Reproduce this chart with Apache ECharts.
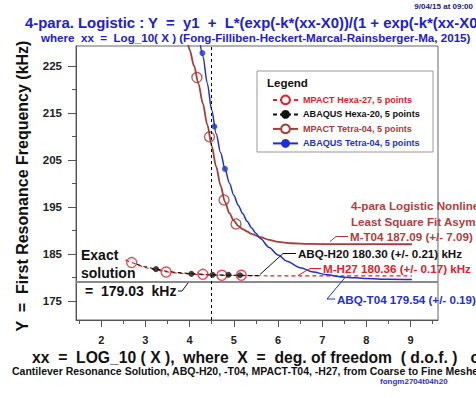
<!DOCTYPE html>
<html><head><meta charset="utf-8">
<script src="https://cdn.jsdelivr.net/npm/echarts@6/dist/echarts.min.js"></script>
<style>html,body{margin:0;padding:0;background:#fff}#c{width:476px;height:398px}</style>
</head><body><div id="c"></div>
<script>
// ---------- data ----------
const xTickLabels = [2, 3, 4, 5, 6, 7, 8, 9];
const xMinorTicks = [1.5, 2.5, 3.5, 4.5, 5.5, 6.5, 7.5, 8.5, 9.5];
const yTickLabels = [175, 185, 195, 205, 215, 225];
const yMinorTicks = [180, 190, 200, 210, 220];

const seriesNames = ['MPACT Hexa-27, 5 points', 'ABAQUS Hexa-20, 5 points', 'MPACT Tetra-04, 5 points', 'ABAQUS Tetra-04, 5 points'];

// measured points (xx = log10 dof, Y kHz)
const mH27X = [2.69, 3.47, 4.30, 4.73, 5.17];
const mH27Y = [183.2, 181.2, 180.7, 180.5, 180.5];
const aH20X = [3.24, 4.04, 4.52, 4.88, 5.14];
const aH20Y = [181.8, 180.8, 180.6, 180.6, 180.5];
const mT04X = [4.165, 4.45, 4.78, 5.05];
const mT04Y = [222.5, 209.9, 196.5, 191.4];
const aT04X = [4.29, 4.56, 4.80];
const aT04Y = [227.7, 212.1, 203.1];

// fitted curves
const fitMH27X = [2.55, 2.7, 2.85, 3.0, 3.25, 3.5, 3.75, 4.0, 4.3, 4.7, 5.2, 5.8, 6.5, 7.5, 9.03];
const fitMH27Y = [183.8, 183.2, 182.6, 182.1, 181.6, 181.2, 180.95, 180.78, 180.62, 180.5, 180.43, 180.39, 180.37, 180.36, 180.36];
const fitAH20X = [2.8, 3.0, 3.24, 3.5, 3.75, 4.0, 4.5, 5.0, 5.6];
const fitAH20Y = [182.9, 182.3, 181.8, 181.35, 181.05, 180.85, 180.6, 180.48, 180.4];
const fitMT04X = [3.95, 4.0, 4.1, 4.2, 4.3, 4.4, 4.5, 4.6, 4.7, 4.8, 4.9, 5.0, 5.1, 5.2, 5.3, 5.4, 5.6, 5.8, 6.0, 6.3, 6.7, 7.5, 9.03];
const fitMT04Y = [230.2, 228.4, 225.0, 221.2, 217.0, 212.5, 208.0, 203.6, 199.6, 196.1, 193.7, 192.1, 191.0, 190.3, 189.8, 189.3, 188.6, 188.0, 187.6, 187.3, 187.15, 187.1, 187.09];
const fitAT04X = [4.22, 4.3, 4.4, 4.5, 4.6, 4.7, 4.8, 4.9, 5.0, 5.1, 5.2, 5.3, 5.4, 5.5, 5.6, 5.8, 6.0, 6.2, 6.5, 6.8, 7.1, 7.5, 8.0, 8.5, 9.03];
const fitAT04Y = [231.0, 227.1, 221.3, 215.6, 210.6, 206.6, 203.1, 200.1, 197.5, 195.4, 193.6, 192.0, 190.6, 189.4, 188.3, 186.4, 184.8, 183.5, 182.1, 181.2, 180.6, 180.1, 179.8, 179.65, 179.58];

const EXACT = 179.03;
const REF_X = 4.5;

// ---------- chart ----------
const RED = '#e0202a', BROWN = '#a83a3a', BLUE = '#1f2fd0', BLACK = '#111';
const FF = 'Liberation Sans, Arial, Helvetica, sans-serif';
const pairs = (xs, ys) => xs.map((x, i) => [x, ys[i]]);

const chart = echarts.init(document.getElementById('c'), null, {renderer: 'svg'});

function lineSeries(name, xs, ys, color, width, dashed, symbol) {
  return {
    type: 'line', name: name, data: pairs(xs, ys),
    xAxisIndex: 0, yAxisIndex: 0,
    smooth: 0.3, smoothMonotone: 'x',
    showSymbol: false, symbol: symbol, symbolSize: 9,
    itemStyle: {color: color},
    lineStyle: {color: color, width: width, type: dashed ? [4, 3] : 'solid'},
    clip: true, silent: true, z: 3
  };
}
function scatterSeries(name, xs, ys, color, hollow) {
  return {
    type: 'scatter', name: name, data: pairs(xs, ys),
    xAxisIndex: 0, yAxisIndex: 0,
    symbol: 'circle', symbolSize: hollow ? 10 : 6,
    itemStyle: hollow ? {color: 'rgba(0,0,0,0)', borderColor: color, borderWidth: 1.4} : {color: color},
    silent: true, z: 4
  };
}

const s0 = lineSeries(seriesNames[0], fitMH27X, fitMH27Y, RED, 1.2, true, 'emptyCircle');
s0.markLine = {
  silent: true, symbol: 'none', label: {show: false},
  data: [
    {yAxis: EXACT, lineStyle: {color: '#8a8a8a', width: 2, type: 'solid'}},
    {xAxis: REF_X, lineStyle: {color: '#000', width: 1, type: [3, 3]}}
  ]
};

function txt(x, y, text, size, color, extra) {
  return {type: 'text', x: x, y: y, style: Object.assign({text: text, fill: color, fontSize: size, fontWeight: 'bold', fontFamily: FF, align: 'left', verticalAlign: 'middle'}, extra || {})};
}
function pl(points, color) {
  return {type: 'polyline', shape: {points: points}, style: {fill: null, stroke: color, lineWidth: 1}, z: 10};
}

chart.setOption({
  animation: false,
  backgroundColor: '#fff',
  grid: {left: 76, right: 38, top: 46, bottom: 78, show: true, borderColor: '#666', borderWidth: 1, containLabel: false, outerBoundsMode: 'none'},
  xAxis: [
    {type: 'value', min: 1.43, max: 9.62, position: 'bottom',
     axisLine: {show: true, lineStyle: {color: '#555', width: 1}},
     axisTick: {show: true, customValues: xTickLabels, length: 7, lineStyle: {color: '#555'}},
     axisLabel: {customValues: xTickLabels, margin: 14, fontSize: 11, fontWeight: 'bold', color: '#222', fontFamily: FF},
     splitLine: {show: false}},
    {type: 'value', min: 1.43, max: 9.62, position: 'bottom', gridIndex: 0,
     axisLine: {show: false},
     axisTick: {show: true, customValues: xMinorTicks, length: 4, lineStyle: {color: '#555'}},
     axisLabel: {show: false}, splitLine: {show: false}}
  ],
  yAxis: [
    {type: 'value', min: 171.0, max: 229.2, position: 'left',
     axisLine: {show: true, lineStyle: {color: '#555', width: 1}},
     axisTick: {show: true, customValues: yTickLabels, length: 8, lineStyle: {color: '#555'}},
     axisLabel: {customValues: yTickLabels, margin: 14, fontSize: 11.5, fontWeight: 'bold', color: '#222', fontFamily: FF},
     splitLine: {show: false}},
    {type: 'value', min: 171.0, max: 229.2, position: 'left', gridIndex: 0,
     axisLine: {show: false},
     axisTick: {show: true, customValues: yMinorTicks, length: 4, lineStyle: {color: '#555'}},
     axisLabel: {show: false}, splitLine: {show: false}}
  ],
  legend: {
    show: true, orient: 'vertical', left: 267, top: 89.5,
    itemWidth: 25, itemHeight: 11, itemGap: 4.6,
    selectedMode: false,
    textStyle: {fontSize: 9.1, fontWeight: 'bold', fontFamily: FF},
    data: [
      {name: seriesNames[0], textStyle: {color: RED}},
      {name: seriesNames[1], textStyle: {color: BLACK}},
      {name: seriesNames[2], textStyle: {color: BROWN}},
      {name: seriesNames[3], textStyle: {color: BLUE}}
    ],
    z: 20
  },
  series: [
    s0,
    lineSeries(seriesNames[1], fitAH20X, fitAH20Y, BLACK, 1.2, true, 'circle'),
    lineSeries(seriesNames[2], fitMT04X, fitMT04Y, BROWN, 1.8, false, 'emptyCircle'),
    lineSeries(seriesNames[3], fitAT04X, fitAT04Y, BLUE, 1.5, false, 'circle'),
    scatterSeries('MPACT Hexa-27 data', mH27X, mH27Y, RED, true),
    scatterSeries('ABAQUS Hexa-20 data', aH20X, aH20Y, BLACK, false),
    scatterSeries('MPACT Tetra-04 data', mT04X, mT04Y, BROWN, true),
    scatterSeries('ABAQUS Tetra-04 data', aT04X, aT04Y, BLUE, false)
  ],
  graphic: [
    {type: 'rect', shape: {x: 257, y: 71, width: 176, height: 81}, style: {fill: '#fff', stroke: '#999', lineWidth: 1}, z: 15},
    Object.assign(txt(267, 83, 'Legend', 11.5, '#111'), {z: 16}),
    txt(473, 6, '9/04/15 at 09:00', 8, '#1a1a80', {align: 'right'}),
    txt(25, 22.5, '4-para. Logistic : Y  =  y1  +  L*(exp(-k*(xx-X0))/(1 + exp(-k*(xx-X0)))', 14.9, '#2020d0'),
    txt(41, 37, 'where  xx  =  Log_10( X ) (Fong-Filliben-Heckert-Marcal-Rainsberger-Ma, 2015)', 11.6, '#2020d0'),
    {type: 'text', x: 22, y: 186, rotation: Math.PI / 2, style: {text: 'Y  =  First Resonance Frequency (kHz)', fill: '#111', fontSize: 16, fontWeight: 'bold', fontFamily: FF, align: 'center', verticalAlign: 'middle'}},
    txt(32, 357, 'xx  =  LOG_10 ( X ),  where  X  =  deg. of freedom  ( d.o.f. )   of  FEM  Mesh', 15.7, '#111'),
    txt(12, 371, 'Cantilever Resonance Solution, ABQ-H20, -T04, MPACT-T04, -H27, from Coarse to Fine Meshes', 10.5, '#111'),
    txt(380, 381, 'fongm2704t04h20', 8, '#3030c0'),
    // exact solution annotation
    txt(81, 255, 'Exact', 14, '#111'),
    txt(81, 273, 'solution', 14, '#111'),
    txt(85, 291, '=  179.03  kHz', 14, '#111'),
    pl([[178, 291], [182, 291], [188, 283]], '#111'),
    // fit annotations
    txt(351, 205, '4-para Logistic Nonlinear', 11.6, '#b04040'),
    txt(351, 221, 'Least Square Fit Asymptotes', 11.6, '#b04040'),
    txt(350, 236.5, 'M-T04 187.09 (+/- 7.09) kHz', 11.6, '#b04040'),
    pl([[330, 241.5], [336, 236.5], [348, 236.5]], BROWN),
    txt(298, 253.5, 'ABQ-H20 180.30 (+/- 0.21) kHz', 11.6, '#111'),
    pl([[260, 274.5], [283, 253.5], [296, 253.5]], '#111'),
    txt(323, 268.5, 'M-H27 180.36 (+/- 0.17) kHz', 11.6, RED),
    pl([[298, 275.5], [310, 268.5], [321, 268.5]], RED),
    txt(337, 299, 'ABQ-T04 179.54 (+/- 0.19) kHz', 11.6, BLUE),
    pl([[345, 277.5], [327, 299], [335, 299]], BLUE)
  ]
});
</script></body></html>
